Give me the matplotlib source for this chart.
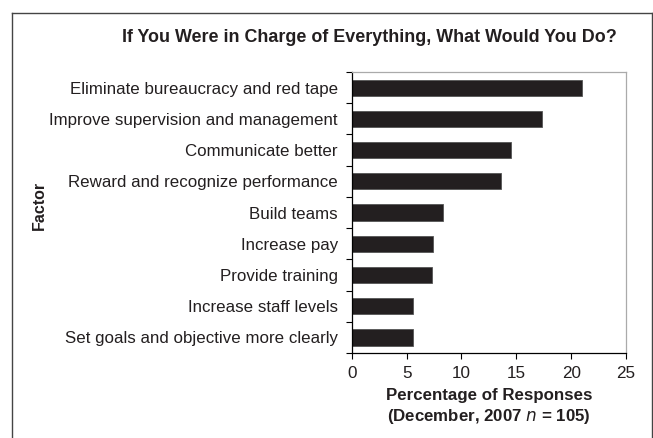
import matplotlib.pyplot as plt
from matplotlib.lines import Line2D

plt.rcParams['font.family'] = ['Liberation Sans', 'DejaVu Sans']

factors = [
    "Eliminate bureaucracy and red tape",
    "Improve supervision and management",
    "Communicate better",
    "Reward and recognize performance",
    "Build teams",
    "Increase pay",
    "Provide training",
    "Increase staff levels",
    "Set goals and objective more clearly",
]
percentages = [21.0, 17.3, 14.5, 13.6, 8.3, 7.4, 7.3, 5.6, 5.6]
x_ticks = [0, 5, 10, 15, 20, 25]

fig = plt.figure(figsize=(6.53, 4.38), dpi=100)
fig.patch.set_facecolor('white')

ax = fig.add_axes([0.5386, 0.194, 0.4201, 0.6416])
pos = list(range(len(factors)))
ax.barh(pos, percentages, height=0.52, color='#231f20', edgecolor='#555555', linewidth=0.6)

ax.set_ylim(len(factors) - 0.5, -0.5)
ax.set_xlim(0, 25)
ax.set_xticks(x_ticks)
ax.tick_params(axis='x', direction='out', length=4, width=0.8, labelsize=12.3, pad=5.5,
               labelcolor='#231f20')

# tick marks between categories, labels at centres
ax.set_yticks([p + 0.5 for p in range(-1, len(factors))])
ax.set_yticklabels([])
ax.set_yticks(pos, minor=True)
ax.set_yticklabels(factors, minor=True)
ax.tick_params(axis='y', which='major', direction='out', length=4, width=0.8)
ax.tick_params(axis='y', which='minor', length=0, labelsize=12.2, pad=10,
               labelcolor='#231f20')

for s in ['left', 'bottom']:
    ax.spines[s].set_color('black')
    ax.spines[s].set_linewidth(0.9)
for s in ['top', 'right']:
    ax.spines[s].set_color('#aaaaaa')
    ax.spines[s].set_linewidth(0.9)

ax.set_xlabel("Percentage of Responses\n(December, 2007 $\\bf{\\it{n}}$ = 105)",
              fontsize=12.2, fontweight='bold', labelpad=5, linespacing=1.3, color='#231f20')

fig.text(0.566, 0.9155, "If You Were in Charge of Everything, What Would You Do?",
         ha='center', va='center', fontsize=12.9, fontweight='bold', color='#231f20')
fig.text(0.060, 0.530, "Factor", rotation=90, ha='center', va='center',
         fontsize=11.5, fontweight='bold', color='#231f20')

# outer frame (open at bottom)
top = 1 - 13 / 438
fig.add_artist(Line2D([12 / 653, 12 / 653], [0, top], color='#444444', lw=1))
fig.add_artist(Line2D([12 / 653, 652 / 653], [top, top], color='#444444', lw=1))
fig.add_artist(Line2D([652 / 653, 652 / 653], [0, top], color='#444444', lw=1))

fig.savefig("out.png", dpi=100, facecolor='white')
